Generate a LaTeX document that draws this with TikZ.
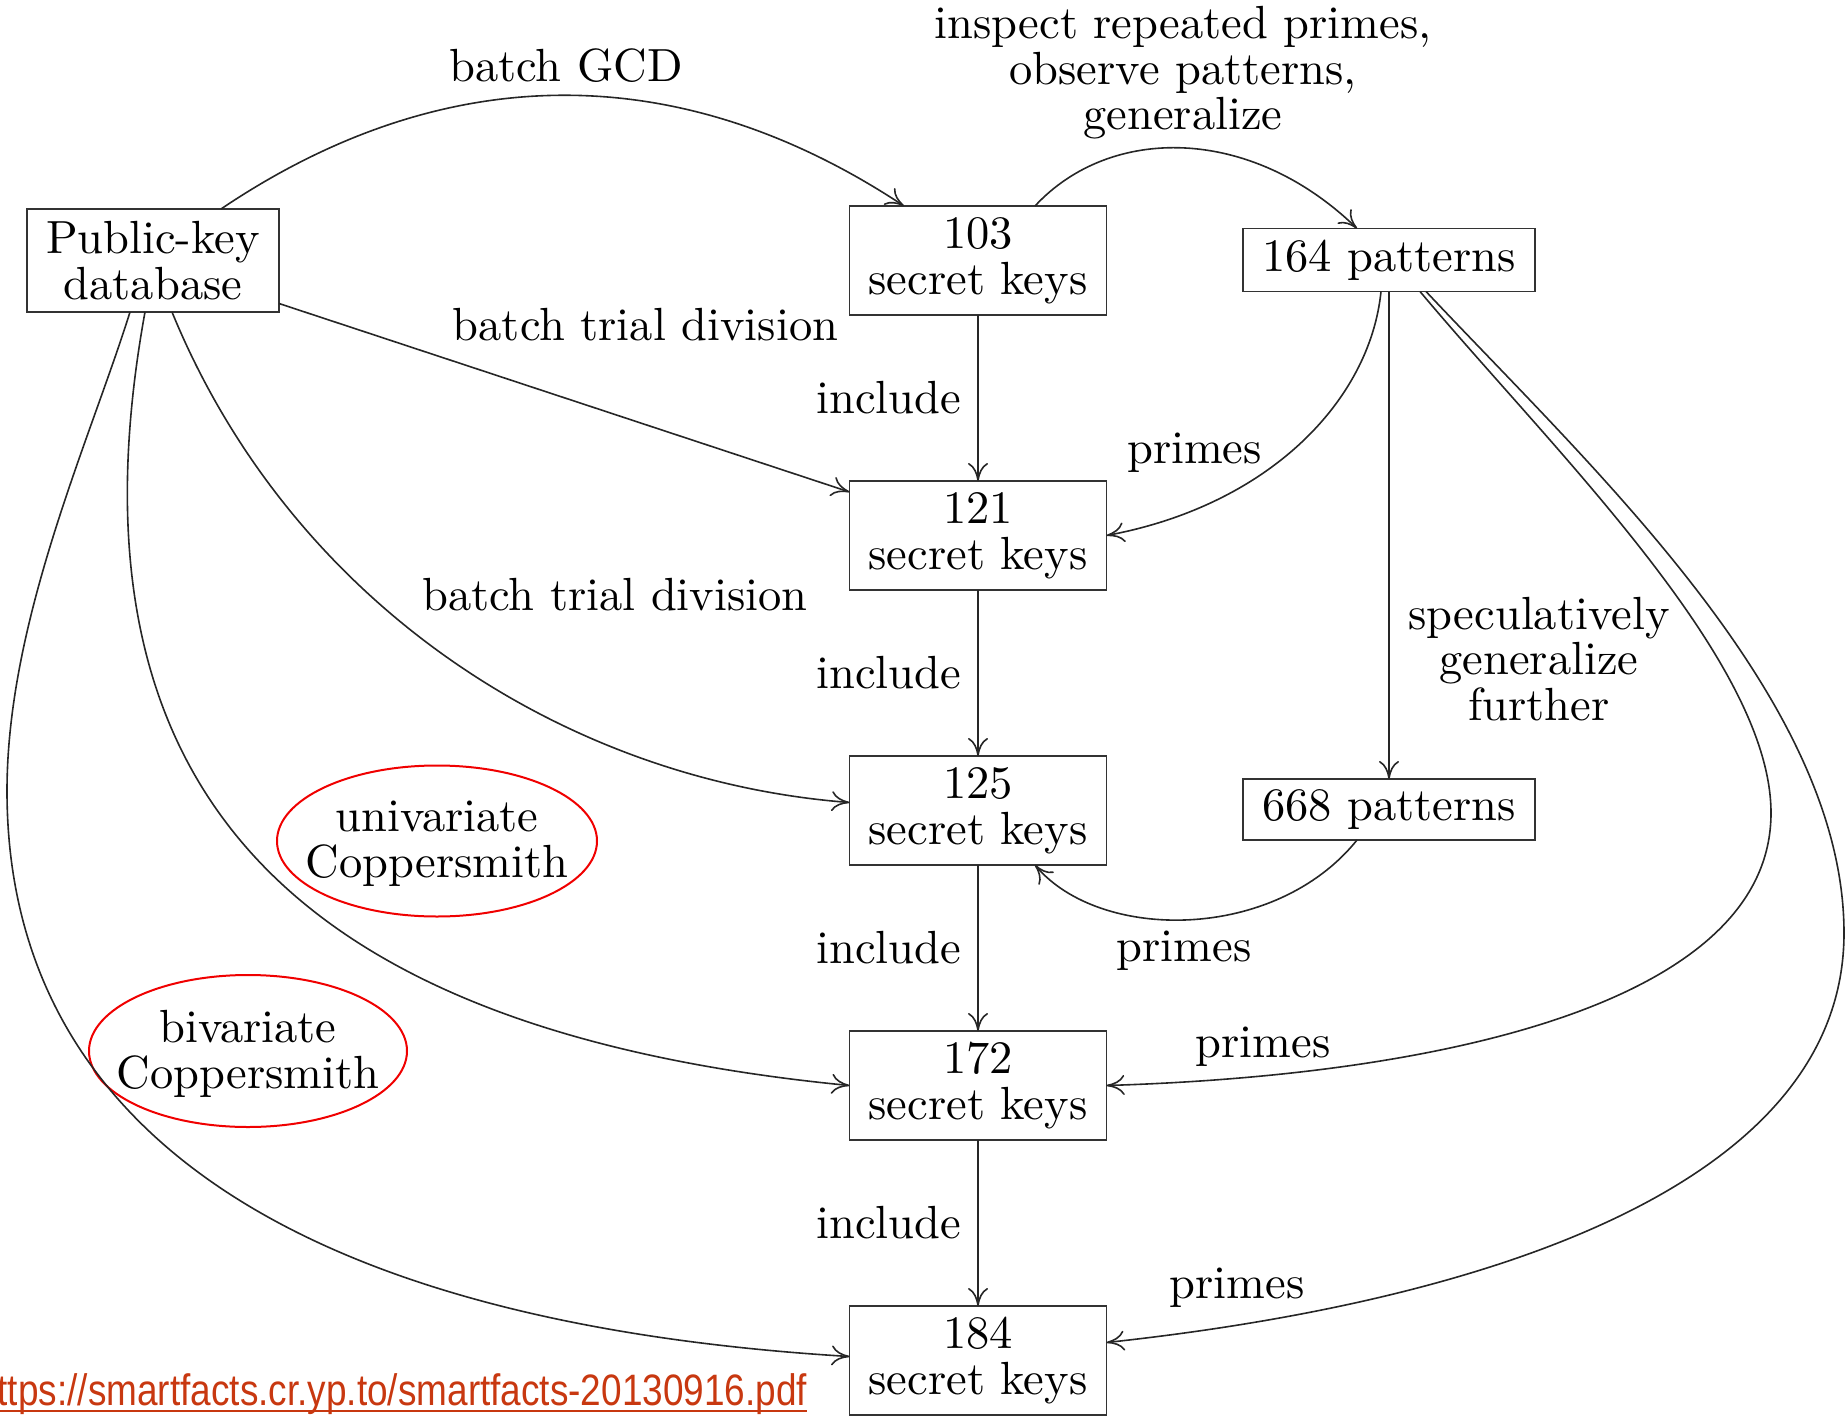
\documentclass[tikz,border=0pt]{standalone}
\usepackage{graphicx}
\usepackage{fontspec}
\newfontfamily\urlfont{Liberation Sans}
\usetikzlibrary{arrows.meta}
\definecolor{urlred}{RGB}{200,56,16}
\definecolor{ringred}{RGB}{240,0,0}
% centred multi-line text, lines separated by \cr, with a fixed baseline distance
\newcommand\tx[1]{\scalebox{4.65}{\fontsize{10}{9.8}\selectfont\lineskiplimit=-\maxdimen\vbox{\halign{\hfil##\hfil\cr#1\crcr}}}}
\begin{document}
\begin{tikzpicture}[x=1pt,y=-1pt,
  every node/.style={inner sep=0pt, outer sep=0pt},
  keybox/.style={draw=black!80, line width=1.8pt, minimum width=257pt, minimum height=109pt},
  patbox/.style={draw=black!80, line width=1.8pt, minimum width=292pt, minimum height=63pt},
  link/.style={draw=black!85, line width=1.6pt, -{Computer Modern Rightarrow[length=18pt,width=20pt]}},
  ring/.style={draw=ringred, line width=2pt},
]
\useasboundingbox (0,0) rectangle (1845,1418);
\clip (0,0) rectangle (1845,1418);

% boxes
\node[keybox, minimum width=252pt, minimum height=103pt] (pk) at (153,260.5) {\tx{Public-key\cr database}};
\node[keybox] (k103) at (978,260.5) {\tx{103\cr secret keys}};
\node[patbox] (p164) at (1389,260) {\tx{164 patterns}};
\node[keybox] (k121) at (978,535.5) {\tx{121\cr secret keys}};
\node[keybox] (k125) at (978,810.5) {\tx{125\cr secret keys}};
\node[patbox, minimum height=61pt] (p668) at (1389,809.5) {\tx{668 patterns}};
\node[keybox] (k172) at (978,1085.5) {\tx{172\cr secret keys}};
\node[keybox] (k184) at (978,1360.5) {\tx{184\cr secret keys}};

% red rings
\node (uni) at (437,844) {\tx{univariate\cr Coppersmith}};
\draw[ring] (437,841) ellipse [x radius=160pt, y radius=75.5pt];
\node (biv) at (248,1054) {\tx{bivariate\cr Coppersmith}};
\draw[ring] (248,1051) ellipse [x radius=159pt, y radius=76pt];

% connectors from the database
\draw[link] ([xshift=68pt]pk.north) .. controls (445,58) and (680,58) .. ([xshift=-74pt]k103.north);
\draw[link] ([yshift=-43pt]pk.east) -- ([yshift=43.5pt]k121.west);
\draw[link] ([xshift=19pt]pk.south) .. controls (290,600) and (560,780) .. ([yshift=8pt]k125.west);
\draw[link] ([xshift=-8pt]pk.south) .. controls (60,780) and (280,1030) .. (k172.west);
\draw[link] ([xshift=-23pt]pk.south) .. controls (90,440) and (7,620) .. (7,791)
            .. controls (7,1100) and (250,1320) .. ([yshift=4pt]k184.west);

% inclusion chain
\draw[link] (k103.south) -- (k121.north) node[midway, anchor=east, xshift=-17pt] (inc1) {\tx{include}};
\draw[link] (k121.south) -- (k125.north) node[midway, anchor=east, xshift=-17pt] (inc2) {\tx{include}};
\draw[link] (k125.south) -- (k172.north) node[midway, anchor=east, xshift=-17pt] (inc3) {\tx{include}};
\draw[link] (k172.south) -- (k184.north) node[midway, anchor=east, xshift=-17pt] (inc4) {\tx{include}};

% pattern connectors
\draw[link] ([xshift=57pt]k103.north) .. controls (1110,125) and (1250,125) .. ([xshift=-32pt]p164.north);
\draw[link] ([xshift=-8pt]p164.south) .. controls (1370,400) and (1270,505) .. (k121.east);
\draw[link] (p164.south) -- (p668.north);
\draw[link] ([xshift=-32pt]p668.south) .. controls (1275,942) and (1100,942) .. ([xshift=57pt]k125.south);
\draw[link] ([xshift=31pt]p164.south) .. controls (1552,449) and (1771,660) .. (1771,813)
            .. controls (1771,1000) and (1450,1075) .. (k172.east);
\draw[link] ([xshift=37pt]p164.south) .. controls (1595,471) and (1844,700) .. (1844,933)
            .. controls (1844,1180) and (1500,1300) .. ([yshift=18pt]k184.east);

% edge labels
\node (lgcd) at (566,66) {\tx{batch GCD}};
\node (linsp) at (1183,73) {\tx{inspect repeated primes,\cr observe patterns,\cr generalize}};
\node (ltd1) at (645.5,325) {\tx{batch trial division}};
\node (ltd2) at (615,595) {\tx{batch trial division}};
\node (lpr1) at (1194.5,453) {\tx{primes}};
\node (lspec) at (1539,659) {\tx{speculatively\cr generalize\cr further}};
\node (lpr2) at (1184,951) {\tx{primes}};
\node (lpr3) at (1263,1047) {\tx{primes}};
\node (lpr4) at (1237,1288) {\tx{primes}};

% source link
\node[anchor=base east, text=urlred, font=\urlfont\fontsize{44}{50}\selectfont] (url) at (807,1405)
  {\scalebox{0.84}[1]{https://smartfacts.cr.yp.to/smartfacts-20130916.pdf}};
\draw[urlred, line width=2.6pt] ([yshift=-6pt]url.base west) -- ([yshift=-6pt]url.base east);
\end{tikzpicture}
\end{document}
